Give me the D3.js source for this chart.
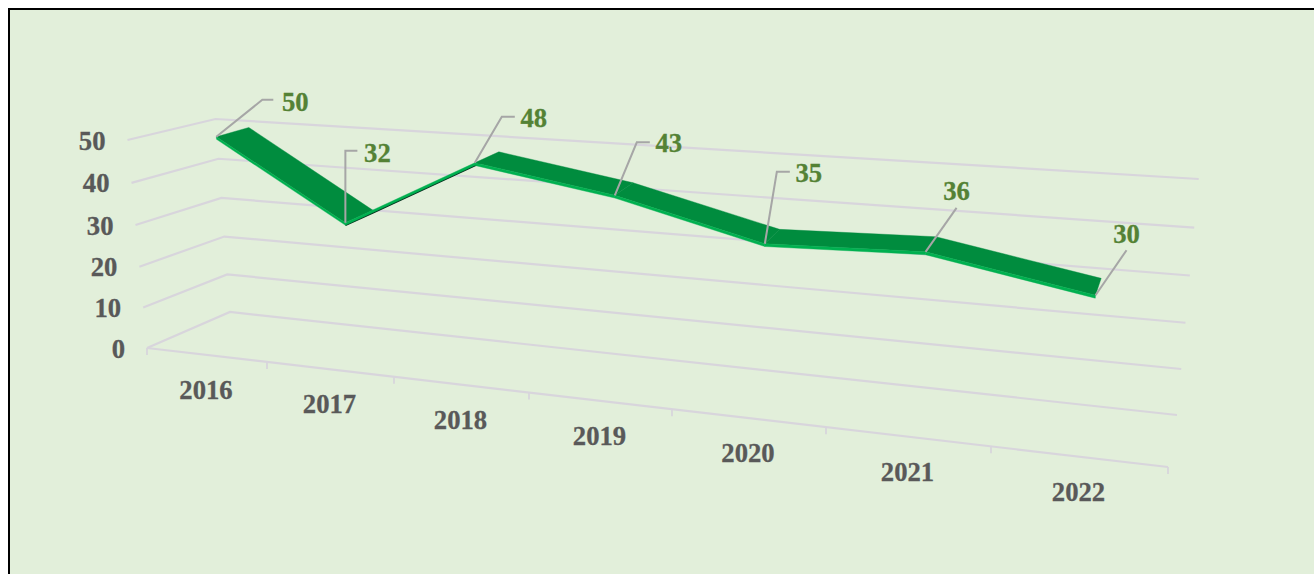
<!DOCTYPE html>
<html>
<head>
<meta charset="utf-8">
<script src="https://cdn.jsdelivr.net/npm/d3@7/dist/d3.min.js"></script>
<style>
html,body{margin:0;padding:0;background:#fff;overflow:hidden}
svg{display:block}
text{font-family:"Liberation Serif","Times New Roman",serif;font-weight:700;stroke-width:.3px;paint-order:stroke}
</style>
</head>
<body>
<svg id="chart" width="1314" height="574"></svg>
<script>
// Data
const years = ["2016","2017","2018","2019","2020","2021","2022"];
const values = [50,32,48,43,35,36,30];
const valueTicks = [0,10,20,30,40,50];

// Perspective frame of the 3-D box (layout, not data)
const frontFloorTicks = [147,267,394,529,672,826,991,1168];
const backFloorTicks  = [230,330,458,574,711,856,1010,1177];
const tickFractions   = [0,.195,.391,.591,.794,1];
const corners = {
  frontBottomL:[147,348], frontBottomR:[1168,467],
  frontTopL:[127.5,140],  frontTopR:[1191,213],
  backBottomL:[230,312],  backBottomR:[1177,415],
  backTopL:[215.5,119],   backTopR:[1198.7,179]
};
const ribbonFront = .34, ribbonBack = .76, ribbonDrop = .6;
// label leader offsets from the data point: elbow-points, then label centre
const leaders = [
  {path:[[46,-37],[57,-37]],   label:[79,-35]},
  {path:[[0,-72],[12,-72]],    label:[32,-70]},
  {path:[[27,-46],[40,-46]],   label:[59,-45]},
  {path:[[22,-53],[35,-53]],   label:[54,-52]},
  {path:[[12,-72],[25,-72]],   label:[44,-71]},
  {path:[[31,-44]],            label:[31,-61]},
  {path:[[31,-45]],            label:[31,-61]}
];

const colors = {bg:"#E2EFDA", border:"#000", grid:"#D8D5DC", axisText:"#595959",
  dataText:"#548235", leader:"#A6A6A6", top:"#008C3E", front:"#00B050", under:"#04291A"};

// Scales
const uFront = d3.scaleLinear().domain(d3.range(frontFloorTicks.length)).range(frontFloorTicks);
const uBack  = d3.scaleLinear().domain(d3.range(backFloorTicks.length)).range(backFloorTicks);
const vFrac  = d3.scaleLinear().domain(valueTicks).range(tickFractions);
const lerp = (a,b,t)=>[a[0]+(b[0]-a[0])*t, a[1]+(b[1]-a[1])*t];

// (u = category position, v = value, d = depth 0 front … 1 back) -> screen
function project(u,v,d){
  const tf = (uFront(u)-frontFloorTicks[0])/(frontFloorTicks[7]-frontFloorTicks[0]);
  const tb = (uBack(u)-backFloorTicks[0])/(backFloorTicks[7]-backFloorTicks[0]);
  const f = lerp(lerp(corners.frontBottomL,corners.frontBottomR,tf),
                 lerp(corners.frontTopL,corners.frontTopR,tf), vFrac(v));
  const b = lerp(lerp(corners.backBottomL,corners.backBottomR,tb),
                 lerp(corners.backTopL,corners.backTopR,tb), vFrac(v));
  return lerp(f,b,d);
}

const svg = d3.select("#chart");
const line = d3.line();
const poly = pts => line(pts)+"Z";

// Background
svg.append("rect").attr("x",9).attr("y",9).attr("width",1330).attr("height",600)
  .attr("fill",colors.bg).attr("stroke",colors.border).attr("stroke-width",2);

// Grid: side wall + back wall
svg.append("g").selectAll("path").data(valueTicks).join("path")
  .attr("d",v=>line([project(0,v,0),project(0,v,1),project(7,v,1)]))
  .attr("fill","none").attr("stroke",colors.grid).attr("stroke-width",2.2);

// Floor front edge and ticks
const nCat = years.length;
svg.append("path").attr("d",line([project(0,0,0),project(nCat,0,0)]))
  .attr("fill","none").attr("stroke",colors.grid).attr("stroke-width",2.2);
svg.append("g").selectAll("path").data(d3.range(nCat+1)).join("path")
  .attr("d",i=>{const p=project(i,0,0);return line([p,[p[0],p[1]+7]]);})
  .attr("stroke",colors.grid).attr("stroke-width",1.8);

// Axis labels
svg.append("g").selectAll("text").data(valueTicks).join("text")
  .attr("x",v=>project(0,v,0)[0]-22).attr("y",v=>project(0,v,0)[1]+9.5)
  .attr("text-anchor","end").attr("font-size",26.67).attr("fill",colors.axisText).attr("stroke",colors.axisText)
  .text(d=>d);
svg.append("g").selectAll("text").data(years).join("text")
  .attr("x",(d,i)=>project(i+.5,0,0)[0]-1).attr("y",(d,i)=>project(i+.5,0,0)[1]+44)
  .attr("text-anchor","middle").attr("font-size",26.67).attr("fill",colors.axisText).attr("stroke",colors.axisText)
  .text(d=>d);

// Ribbon
const segs = d3.range(nCat-1).map(i=>{
  const a=i+.5,b=i+1.5,va=values[i],vb=values[i+1];
  const d0=ribbonFront,d1=ribbonBack,dr=ribbonDrop;
  const top=[project(a,va,d0),project(b,vb,d0),project(b,vb,d1),project(a,va,d1)];
  const under=[project(a,va-dr,d0),project(b,vb-dr,d0),project(b,vb-dr,d1),project(a,va-dr,d1)];
  const front=[project(a,va,d0),project(b,vb,d0),project(b,vb-dr,d0),project(a,va-dr,d0)];
  // signed area tells whether the top surface faces the viewer
  const area=d3.polygonArea(top);
  return {top,under,front,flipped:area<0};
});
const gR = svg.append("g");
segs.forEach(s=>{
  if(s.flipped){
    gR.append("path").attr("d",poly(s.under)).attr("fill",colors.under).attr("stroke",colors.under).attr("stroke-width",1.6);
  }else{
    gR.append("path").attr("d",poly(s.top)).attr("fill",colors.top).attr("stroke",colors.top).attr("stroke-width",.4);
  }
  gR.append("path").attr("d",poly(s.front)).attr("fill",colors.front).attr("stroke",colors.front).attr("stroke-width",.4);
});

// Leaders and data labels
const pts = values.map((v,i)=>project(i+.5,v,ribbonFront));
svg.append("g").selectAll("path").data(values).join("path")
  .attr("d",(v,i)=>line([pts[i],...leaders[i].path.map(o=>[pts[i][0]+o[0],pts[i][1]+o[1]])]))
  .attr("fill","none").attr("stroke",colors.leader).attr("stroke-width",2);
svg.append("g").selectAll("text").data(values).join("text")
  .attr("x",(v,i)=>pts[i][0]+leaders[i].label[0]).attr("y",(v,i)=>pts[i][1]+leaders[i].label[1]+9)
  .attr("text-anchor","middle").attr("font-size",26.67).attr("fill",colors.dataText).attr("stroke",colors.dataText)
  .text(d=>d);
</script>
</body>
</html>
